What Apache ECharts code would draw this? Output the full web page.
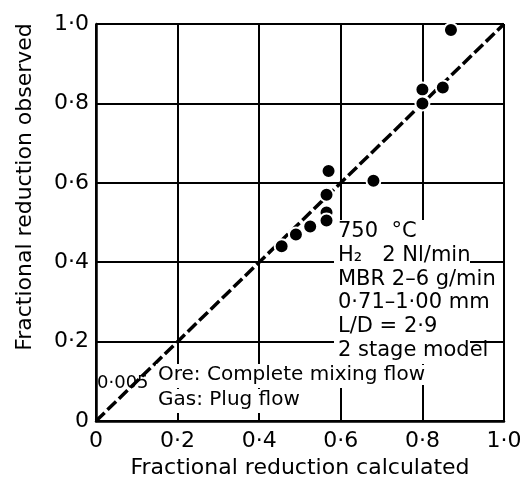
<!DOCTYPE html>
<html><head><meta charset="utf-8">
<script src="https://cdn.jsdelivr.net/npm/echarts@6/dist/echarts.min.js"></script>
<style>html,body{margin:0;padding:0;background:#fff}#c{width:525px;height:489px}</style>
</head><body><div id="c"></div>
<script>
const calculated = [0.87, 0.80, 0.85, 0.80, 0.57, 0.68, 0.565, 0.565, 0.565, 0.525, 0.49, 0.455];
const observed   = [0.985, 0.835, 0.84, 0.80, 0.63, 0.605, 0.57, 0.525, 0.505, 0.49, 0.47, 0.44];
const parityX = [0, 1];
const parityY = [0, 1];
const xTitle = 'Fractional reduction calculated';
const yTitle = 'Fractional reduction observed';
const notes = ['750  °C', 'H\u2082   2 Nl/min', 'MBR 2\u20136 g/min', '0·71\u20131·00 mm', 'L/D = 2·9', '2 stage model'];
const flowNotes = ['Ore: Complete mixing flow', 'Gas: Plug flow'];
const cornerNote = '0·005';

const fmt = v => v === 0 ? '0' : v.toFixed(1).replace('.', '·');
const font = 'DejaVu Sans';
const chart = echarts.init(document.getElementById('c'));
const pts = calculated.map((x, i) => [x, observed[i]]);
const diag = parityX.map((x, i) => [x, parityY[i]]);

const elements = [];
// opaque boxes behind the note block (as in the original figure)
elements.push({ type: 'rect', shape: { x: 334, y: 220, width: 136, height: 144 }, z: 50, style: { fill: '#fff' } });
notes.forEach((t, i) => elements.push({
  type: 'text', x: 338, y: 221 + i * 23.8, z: 60,
  style: { text: t, fontSize: 21, fontFamily: font, fill: '#000' }
}));
flowNotes.forEach((t, i) => elements.push({
  type: 'text', x: 158, y: 365 + i * 25, z: 60,
  style: { text: t, fontSize: 20, fontFamily: font, fill: '#000', backgroundColor: '#fff' }
}));
elements.push({ type: 'rect', shape: { x: 156, y: 364, width: 266, height: 24 }, z: 50, style: { fill: '#fff' } });
elements.push({ type: 'rect', shape: { x: 156, y: 389, width: 134, height: 24 }, z: 50, style: { fill: '#fff' } });
elements.push({ type: 'text', x: 97, y: 374, z: 60,
  style: { text: cornerNote, fontSize: 18, fontFamily: font, fill: '#000' } });
elements.push({ type: 'text', x: 25, y: 187, rotation: Math.PI / 2, z: 60,
  style: { text: yTitle, fontSize: 22, fontFamily: font, fill: '#000', align: 'center', verticalAlign: 'middle' } });

chart.setOption({
  animation: false,
  textStyle: { fontFamily: font },
  grid: { left: 96, right: 21, top: 24, bottom: 68 },
  xAxis: {
    type: 'value', min: 0, max: 1, interval: 0.2,
    name: xTitle, nameLocation: 'middle', nameGap: 33,
    nameTextStyle: { fontSize: 22, color: '#000', fontFamily: font },
    axisLine: { show: true, lineStyle: { color: '#000', width: 2.5 } },
    axisTick: { show: false },
    splitLine: { show: true, lineStyle: { color: '#000', width: 2 } },
    axisLabel: { formatter: fmt, fontSize: 22, color: '#000', margin: 9 }
  },
  yAxis: {
    type: 'value', min: 0, max: 1, interval: 0.2,
    axisLine: { show: true, lineStyle: { color: '#000', width: 2.5 } },
    axisTick: { show: false },
    splitLine: { show: true, lineStyle: { color: '#000', width: 2 } },
    axisLabel: { formatter: fmt, fontSize: 22, color: '#000', margin: 7 }
  },
  graphic: { elements: elements },
  series: [
    { type: 'line', data: diag, symbol: 'none', z: 3,
      lineStyle: { color: '#000', width: 3.5, type: [12, 4] } },
    { type: 'scatter', data: pts, symbol: 'circle', symbolSize: 14, z: 4,
      itemStyle: { color: '#000', opacity: 1, borderColor: '#fff', borderWidth: 2 } }
  ]
});
</script></body></html>
